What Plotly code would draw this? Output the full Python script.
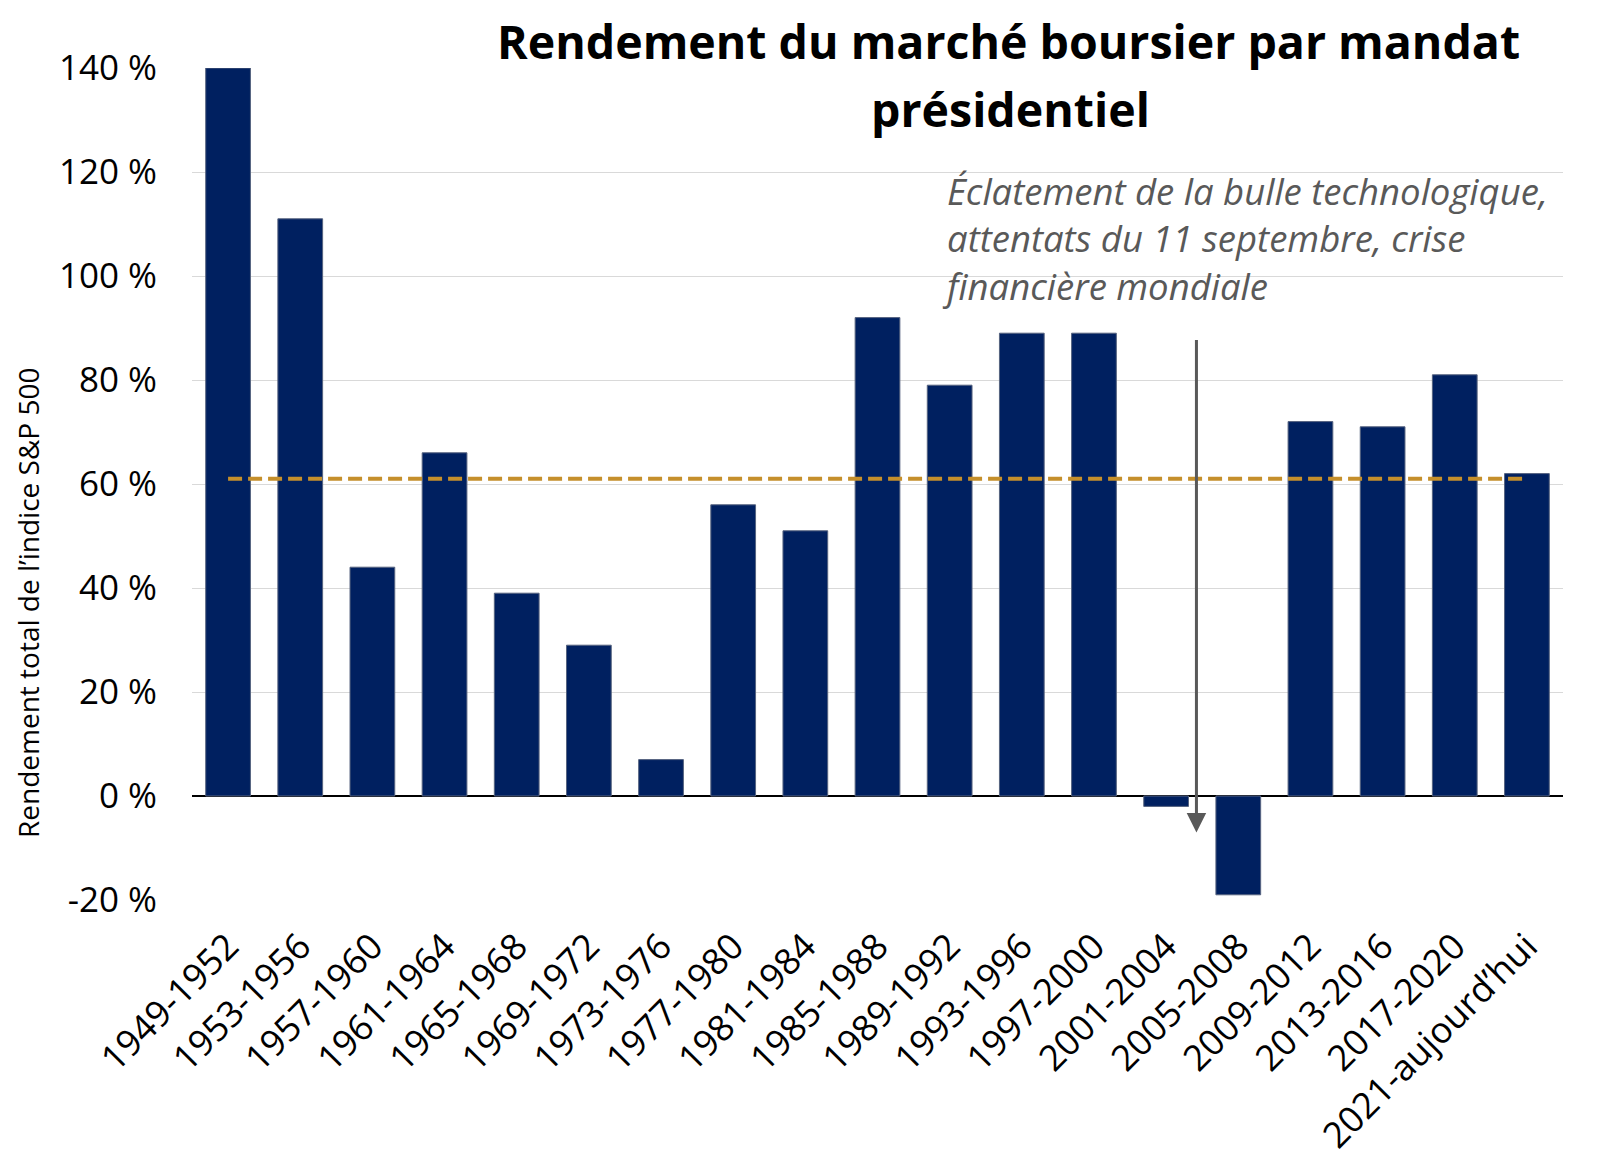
import plotly.graph_objects as go

categories = ["1949-1952", "1953-1956", "1957-1960", "1961-1964", "1965-1968",
              "1969-1972", "1973-1976", "1977-1980", "1981-1984", "1985-1988",
              "1989-1992", "1993-1996", "1997-2000", "2001-2004", "2005-2008",
              "2009-2012", "2013-2016", "2017-2020", "2021-aujourd\u2019hui"]
returns = [140, 111, 44, 66, 39, 29, 7, 56, 51, 92, 79, 89, 89, -2, -19, 72, 71, 81, 62]
average = 61
tick_vals = [-20, 0, 20, 40, 60, 80, 100, 120, 140]
tick_text = [f"{v} %" for v in tick_vals]

title_line1 = "Rendement du marché boursier par mandat"
title_line2 = "présidentiel"
y_title = "Rendement total de l\u2019indice S&P 500"
note = "Éclatement de la bulle technologique,<br>attentats du 11 septembre, crise<br>financière mondiale"

OFF = 8  # page body margin
W, H = 1600 - OFF, 1163 - OFF
L, R, T, B = 192 - OFF, 37, 68 - OFF, 263
pw, ph = W - L - R, H - T - B

def px_x(x):
    return (x - OFF - L) / pw

def px_y(y):
    return (H - B - (y - OFF)) / ph

fig = go.Figure()
fig.add_trace(go.Bar(
    x=categories, y=returns, width=0.62,
    marker=dict(color="#002060", line=dict(color="#56637f", width=1)),
    showlegend=False,
))
fig.add_trace(go.Scatter(
    x=[categories[0], categories[-1]], y=[average, average], mode="lines",
    line=dict(color="#C58F2B", width=4, dash="14px,6px"), showlegend=False,
))

font_main = "Open Sans"
fig.update_layout(
    width=W, height=H, margin=dict(l=L, r=R, t=T, b=B, autoexpand=False),
    paper_bgcolor="white", plot_bgcolor="white",
    font=dict(family=font_main, color="black"),
    xaxis=dict(
        type="category", tickangle=-45, tickfont=dict(size=36, color="black"),
        showgrid=False, showline=False, ticks="", ticklabelstandoff=17,
        range=[-0.5, len(categories) - 0.5], automargin=False,
    ),
    yaxis=dict(
        range=[-20, 140], tickvals=tick_vals, ticktext=tick_text,
        tickfont=dict(size=35, color="black"), showgrid=True, gridcolor="#D9D9D9",
        gridwidth=1.2, zeroline=True, zerolinecolor="black", zerolinewidth=1.5,
        showline=False, ticks="", ticklabelstandoff=34, automargin=False,
    ),
)

fig.add_annotation(text=f"<b>{title_line1}</b>", xref="paper", yref="paper",
                   x=px_x(1008), y=px_y(41), xanchor="center", yanchor="middle",
                   showarrow=False, font=dict(size=46.5, color="black", family=font_main))
fig.add_annotation(text=f"<b>{title_line2}</b>", xref="paper", yref="paper",
                   x=px_x(1010), y=px_y(109), xanchor="center", yanchor="middle",
                   showarrow=False, font=dict(size=46.5, color="black", family=font_main))
fig.add_annotation(text=y_title, xref="paper", yref="paper", x=px_x(28), y=px_y(603),
                   xanchor="center", yanchor="middle", textangle=-90, showarrow=False,
                   font=dict(size=28, color="black", family=font_main))
fig.add_annotation(text=f"<i>{note}</i>", xref="paper", yref="paper",
                   x=px_x(940), y=px_y(238), xanchor="left", yanchor="middle",
                   align="left", showarrow=False,
                   font=dict(size=36.5, color="#595959", family=font_main))
# arrow between 2001-2004 and 2005-2008
fig.add_annotation(text="", x=13.42, y=-7, ax=13.42, ay=88, xref="x", yref="y",
                   axref="x", ayref="y", showarrow=True, arrowhead=2, arrowsize=1.3,
                   arrowwidth=3, arrowcolor="#595959")

fig.write_html("out.html")
